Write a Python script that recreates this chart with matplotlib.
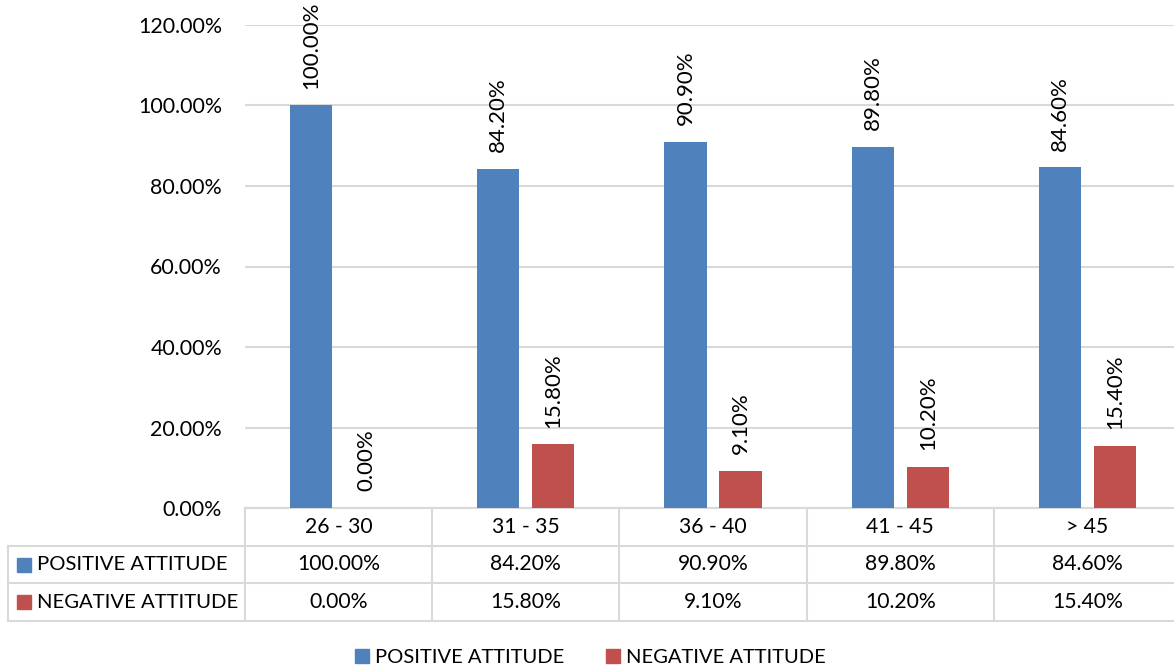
import matplotlib
matplotlib.use("Agg")
import matplotlib.pyplot as plt
import numpy as np
from matplotlib.lines import Line2D

# 数据
categories = ["26 - 30", "31 - 35", "36 - 40", "41 - 45", "> 45"]
positive = [100.0, 84.2, 90.9, 89.8, 84.6]
negative = [0.0, 15.8, 9.1, 10.2, 15.4]
series_names = ["POSITIVE ATTITUDE", "NEGATIVE ATTITUDE"]
yticks = [0, 20, 40, 60, 80, 100, 120]

blue = "#4F81BD"
red = "#C0504D"
grid_c = "#D9D9D9"
plt.rcParams['font.family'] = ['Lato', 'DejaVu Sans']

W, H = 1174, 670
fig = plt.figure(figsize=(W / 100, H / 100), dpi=100)

# 绘图区像素位置
x0, x1 = 245, 1181
y_top, y_bot = 25, 508
ax = fig.add_axes([x0 / W, 1 - y_bot / H, (x1 - x0) / W, (y_bot - y_top) / H])

x = np.arange(len(categories))
bw = 0.225
off = 0.147
ax.bar(x - off, positive, bw, color=blue, zorder=3)
ax.bar(x + off, negative, bw, color=red, zorder=3)

for xi, p, n in zip(x, positive, negative):
    ax.text(xi - off, p + 4.2, f"{p:.2f}%", rotation=90, ha="center", va="bottom",
            fontsize=16, clip_on=False)
    ax.text(xi + off, n + 4.2, f"{n:.2f}%", rotation=90, ha="center", va="bottom",
            fontsize=16, clip_on=False)

ax.set_xlim(-0.5, len(categories) - 0.5)
ax.set_ylim(0, 120)
ax.set_yticks(yticks)
ax.set_yticklabels([f"{v:.2f}%" for v in yticks], fontsize=15.4)
ax.tick_params(axis="y", length=0, pad=16.5)
ax.set_xticks([])
ax.grid(axis="y", color=grid_c, linewidth=1.5, zorder=0)
for s in ["top", "right", "left"]:
    ax.spines[s].set_visible(False)
ax.spines["bottom"].set_color(grid_c)
ax.spines["bottom"].set_linewidth(1.5)

# 数据表
lab_w = (x0 - 8) / ((x1 - x0) / len(categories))
t_top, t_bot = 508, 621
tax = fig.add_axes([8 / W, 1 - t_bot / H, (x1 - 8) / W, (t_bot - t_top) / H])
tax.set_xlim(-0.5 - lab_w, len(categories) - 0.5)
tax.set_ylim(0, 3)
tax.axis("off")
lkw = dict(color=grid_c, linewidth=1.5, clip_on=False)
left = -0.5 - lab_w
right = len(categories) - 0.5
for yy in [2, 1, 0]:
    tax.plot([left, right], [yy, yy], **lkw)
tax.plot([left, left], [0, 2], **lkw)
for b in np.arange(len(categories) + 1) - 0.5:
    tax.plot([b, b], [0, 3], **lkw)

for xi, c, p, n in zip(x, categories, positive, negative):
    tax.text(xi, 2.5, c, ha="center", va="center", fontsize=15.2)
    tax.text(xi, 1.5, f"{p:.2f}%", ha="center", va="center", fontsize=15.2)
    tax.text(xi, 0.5, f"{n:.2f}%", ha="center", va="center", fontsize=15.2)

for row, name, col in [(1.5, series_names[0], blue), (0.5, series_names[1], red)]:
    tax.plot([left + 0.083], [row], marker="s", markersize=10, color=col, clip_on=False)
    tax.text(left + 0.155, row, name, ha="left", va="center", fontsize=14.6)

# 图例
handles = [Line2D([], [], marker="s", linestyle="none", markersize=10, color=blue),
           Line2D([], [], marker="s", linestyle="none", markersize=10, color=red)]
fig.legend(handles, series_names, loc="center", bbox_to_anchor=(590 / W, 1 - 657 / H),
           ncol=2, frameon=False, fontsize=14.5, handletextpad=0.25, columnspacing=2.0,
           handlelength=0.8)

fig.savefig("out.png", dpi=100)
